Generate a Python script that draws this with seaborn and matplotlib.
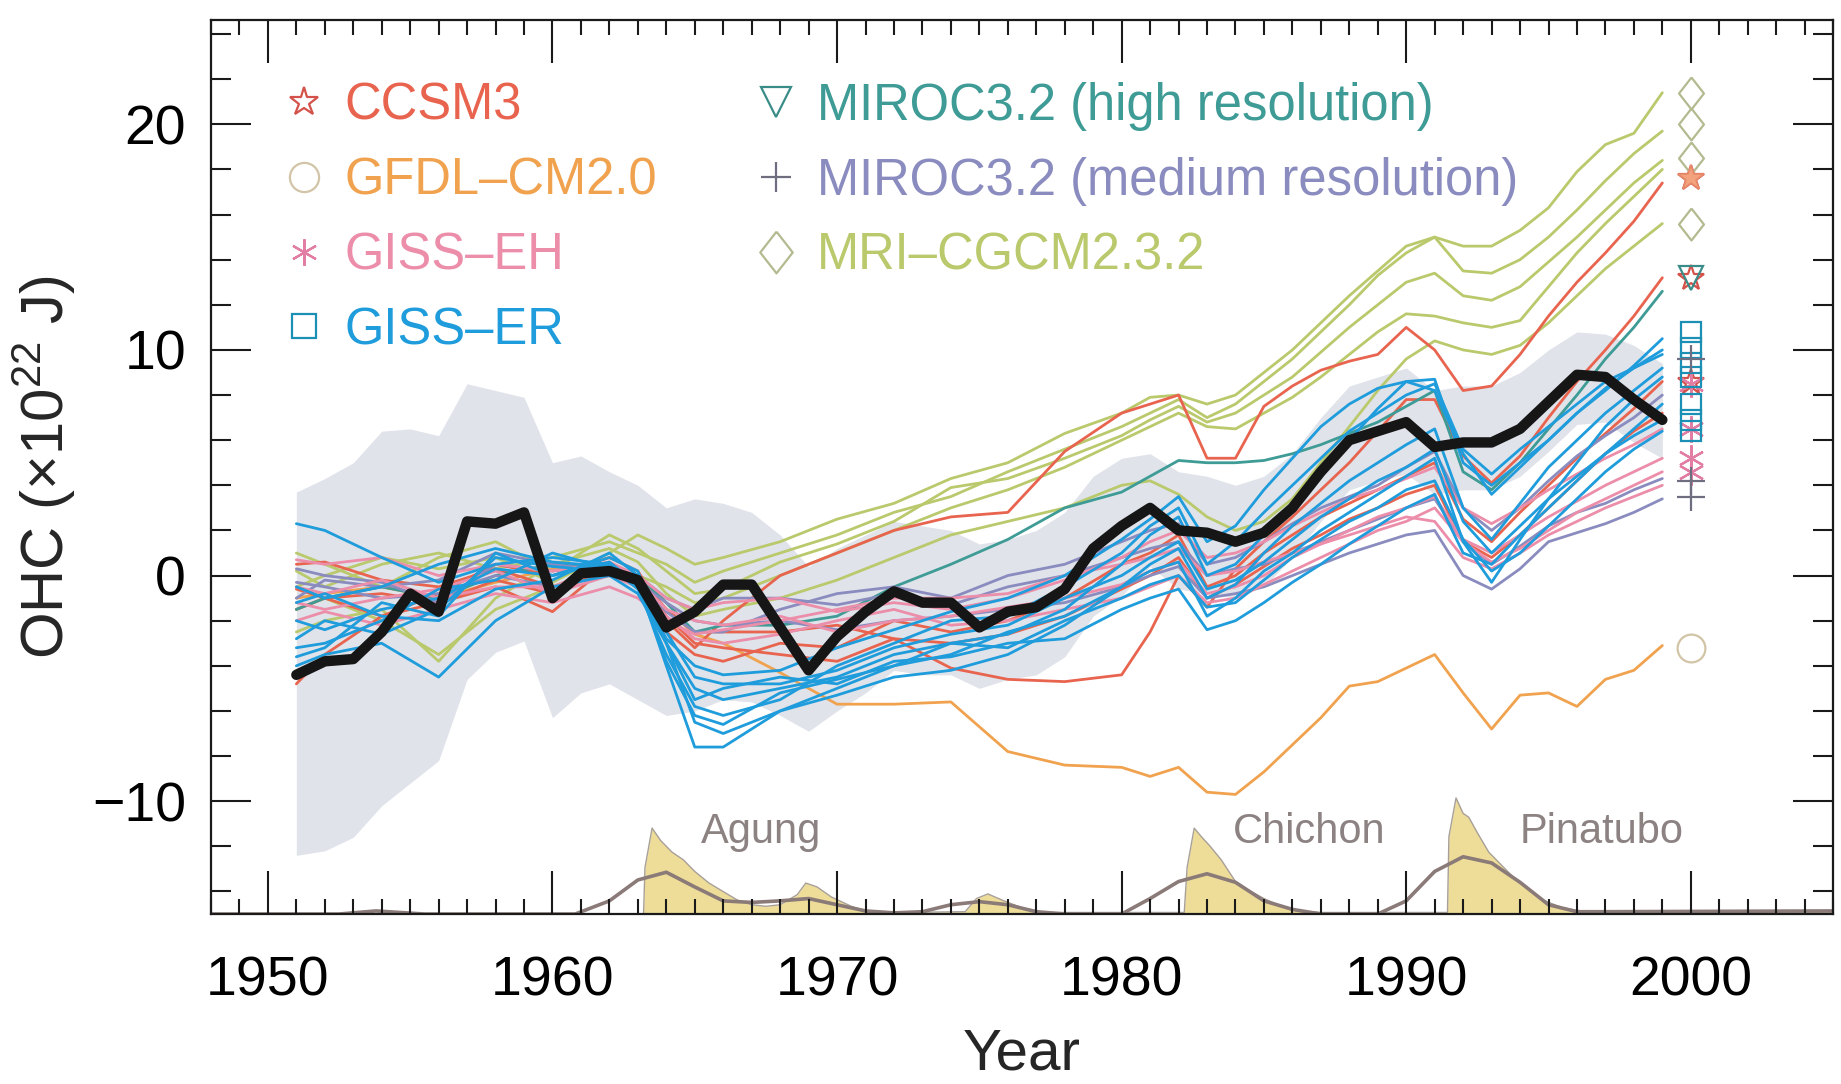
import matplotlib
matplotlib.use("Agg")
import matplotlib.pyplot as plt
from matplotlib.lines import Line2D
from matplotlib.ticker import MultipleLocator, FixedLocator
import pandas as pd
import seaborn as sns

# ---------------------------------------------------------------- data
years = list(range(1951, 2000))

# observed ocean heat content (x1e22 J) and its uncertainty envelope
obs_ohc = [-4.4, -3.8, -3.7, -2.5, -0.8, -1.6, 2.4, 2.3, 2.8, -1.0,
           0.1, 0.2, -0.2, -2.3, -1.6, -0.4, -0.4, -2.3, -4.2, -2.7,
           -1.6, -0.7, -1.2, -1.2, -2.3, -1.6, -1.4, -0.6, 1.2, 2.2,
           3.0, 2.0, 1.9, 1.5, 1.9, 3.0, 4.6, 6.0, 6.4, 6.8,
           5.7, 5.9, 5.9, 6.5, 7.7, 8.9, 8.8, 7.8, 6.9]
obs_upper = [3.7, 4.3, 5.0, 6.4, 6.5, 6.2, 8.5, 8.2, 7.9, 5.0,
             5.3, 4.6, 4.0, 3.0, 3.4, 3.2, 2.8, 1.8, 0.4, 1.2,
             1.8, 2.4, 2.2, 2.0, 1.4, 1.6, 2.0, 2.8, 4.4, 5.2,
             5.4, 4.6, 4.4, 4.0, 4.4, 5.4, 7.0, 8.4, 8.8, 9.2,
             8.2, 8.4, 8.4, 9.0, 10.0, 10.8, 10.7, 10.2, 9.4]
obs_lower = [-12.4, -12.2, -11.6, -10.2, -9.2, -8.2, -4.6, -3.4, -2.9, -6.3,
             -5.2, -4.8, -5.5, -6.2, -6.0, -5.5, -5.6, -6.2, -6.9, -6.0,
             -5.2, -4.2, -4.4, -4.4, -5.0, -4.6, -4.4, -3.6, -1.8, -0.9,
             0.4, -0.6, -0.8, -1.0, -0.5, 0.8, 2.4, 3.8, 4.2, 4.5,
             3.6, 3.8, 3.8, 4.4, 5.5, 6.7, 6.8, 5.9, 5.2]

# simulated runs, sampled on these years
run_years = [1951, 1952, 1954, 1956, 1958, 1960, 1962, 1963, 1964, 1965, 1966,
             1968, 1970, 1972, 1974, 1976, 1978, 1980, 1981, 1982, 1983, 1984,
             1985, 1986, 1987, 1988, 1989, 1990, 1991, 1992, 1993, 1994, 1995,
             1996, 1997, 1998, 1999]

ccsm3_runs = [
    [-0.6, -1.0, -0.8, -1.2, -0.2, -0.8, 0.3, -0.3, -2.0, -3.2, -2.0,
     0.0, 1.0, 2.0, 2.6, 2.8, 5.5, 7.2, 7.6, 8.0, 5.2, 5.2,
     7.5, 8.4, 9.1, 9.5, 9.8, 11.0, 10.0, 8.2, 8.4, 9.8, 11.5,
     13.0, 14.3, 15.7, 17.4],
    [-4.8, -3.5, -1.8, -1.2, -0.5, -1.6, 0.5, 0.0, -1.5, -2.5, -2.5,
     -2.5, -2.2, -2.8, -4.1, -4.6, -4.7, -4.4, -2.5, 0.0, -1.4, 0.3,
     1.5, 2.6, 3.8, 5.0, 6.4, 7.8, 7.8, 5.3, 4.1, 5.3, 7.0,
     8.6, 10.0, 11.5, 13.2],
    [0.5, 0.6, -0.2, -0.5, 0.3, -0.5, 0.2, -0.5, -2.5, -3.5, -3.8,
     -3.0, -3.2, -2.0, -2.5, -2.0, -1.0, 0.5, 1.0, 1.8, -0.5, 0.0,
     1.0, 1.8, 2.6, 3.2, 3.8, 4.4, 5.0, 2.5, 1.5, 2.8, 4.0,
     5.2, 6.3, 7.4, 8.6],
    [-1.5, -1.0, -1.8, -0.8, 0.5, 0.0, 0.8, 0.2, -1.8, -3.0, -3.2,
     -3.5, -3.8, -2.8, -3.0, -2.6, -1.8, -0.6, 0.0, 0.8, -1.0, -0.4,
     0.4, 1.2, 1.8, 2.5, 3.0, 3.6, 4.0, 1.5, 0.8, 1.8, 3.0,
     4.2, 5.4, 6.4, 7.2],
]
gfdl_runs = [
    [-1.0, -0.8, -0.5, -1.0, -0.3, 0.3, 0.4, -0.3, -1.5, -2.6, -3.0,
     -4.3, -5.7, -5.7, -5.6, -7.8, -8.4, -8.5, -8.9, -8.5, -9.6, -9.7,
     -8.7, -7.5, -6.3, -4.9, -4.7, -4.1, -3.5, -5.2, -6.8, -5.3, -5.2,
     -5.8, -4.6, -4.2, -3.1],
]
giss_eh_runs = [
    [0.7, 0.5, 0.8, 0.0, 0.5, 0.2, 0.6, 0.0, -1.0, -1.5, -1.2,
     -1.0, -1.6, -1.2, -1.5, -1.0, -0.2, 0.8, 1.5, 2.0, 0.8, 1.0,
     1.5, 2.2, 2.8, 3.4, 3.8, 4.3, 4.8, 3.0, 2.3, 3.0, 3.8,
     4.5, 5.2, 5.8, 6.5],
    [-0.5, -0.8, -0.2, -1.0, -0.5, -0.5, 0.5, -0.2, -1.5, -2.0, -2.2,
     -1.8, -2.5, -2.0, -1.8, -1.4, -1.0, -0.4, 0.2, 0.6, -0.8, -0.5,
     0.0, 0.8, 1.4, 2.0, 2.6, 3.0, 3.5, 1.6, 1.0, 1.8, 2.6,
     3.3, 4.0, 4.6, 5.2],
    [-1.2, -1.5, -1.0, -0.6, 0.2, -0.8, 0.0, -0.5, -1.8, -2.8, -3.0,
     -2.6, -2.0, -1.5, -2.2, -2.0, -1.5, -1.0, -0.5, 0.0, -1.2, -1.0,
     -0.4, 0.2, 0.8, 1.4, 2.0, 2.4, 3.0, 1.5, 0.6, 1.2, 2.0,
     2.8, 3.4, 4.0, 4.6],
    [-2.0, -1.6, -2.2, -1.5, -0.8, -1.2, -0.5, -1.0, -2.0, -2.6, -2.4,
     -2.0, -1.5, -1.0, -1.0, -0.8, 0.0, 0.5, 0.8, 1.2, 0.0, 0.2,
     0.6, 1.0, 1.4, 1.8, 2.2, 2.6, 2.4, 0.8, 0.3, 1.0, 1.8,
     2.4, 3.0, 3.5, 4.0],
]
giss_er_runs = [
    [2.3, 2.0, 0.8, -0.3, 0.5, 0.8, 0.5, -0.5, -3.0, -5.0, -5.5,
     -5.0, -4.5, -3.5, -3.0, -2.6, -1.5, 0.5, 1.8, 2.6, 0.0, 0.5,
     1.8, 3.0, 4.5, 6.0, 7.4, 8.6, 8.7, 5.0, 4.0, 5.0, 6.0,
     7.2, 8.2, 9.3, 10.5],
    [-0.5, -1.0, -0.5, 0.5, 1.2, 0.6, 0.4, -0.6, -3.5, -5.8, -6.2,
     -5.5, -4.0, -3.0, -2.0, -1.8, -0.5, 1.0, 2.2, 3.0, 0.5, 1.5,
     2.8, 4.0, 5.2, 6.4, 7.2, 8.0, 8.5, 5.6, 4.5, 5.6, 6.6,
     7.6, 8.6, 9.2, 9.8],
    [-2.0, -2.4, -1.5, -1.0, 0.3, 0.0, 0.8, 0.2, -3.0, -6.5, -7.0,
     -6.0, -5.0, -4.0, -3.5, -2.5, -1.8, -0.5, 0.5, 1.2, -1.0, -0.4,
     1.0, 2.2, 3.2, 4.2, 5.0, 5.8, 6.5, 3.0, 1.6, 3.2, 4.8,
     6.0, 7.2, 8.2, 9.2],
    [-3.2, -3.0, -2.0, -0.6, -0.2, 1.0, 0.3, -0.3, -4.0, -7.6, -7.6,
     -6.0, -5.3, -4.5, -4.2, -3.5, -2.2, -0.5, 0.2, 0.6, -1.8, -1.0,
     0.2, 1.0, 2.0, 2.8, 3.6, 4.4, 5.2, 1.5, -0.3, 1.6, 3.4,
     5.0, 6.6, 7.8, 8.8],
    [-4.0, -3.5, -3.0, -4.5, -2.0, -0.5, 0.0, -0.8, -3.0, -5.5, -5.0,
     -4.5, -4.8, -3.8, -3.6, -3.0, -2.8, -1.5, -1.0, -0.6, -2.4, -2.0,
     -1.2, -0.3, 0.5, 1.4, 2.2, 3.0, 3.6, 1.0, 0.5, 1.8, 3.0,
     4.2, 5.4, 6.5, 7.6],
    [-1.2, -0.8, -1.8, -2.0, -0.6, -0.2, 1.0, 0.0, -2.5, -4.5, -4.8,
     -4.8, -4.2, -3.2, -2.6, -2.2, -1.0, 0.0, 0.8, 1.5, -0.6, -0.2,
     0.6, 1.6, 2.6, 3.4, 4.2, 4.8, 5.6, 2.4, 1.0, 2.2, 3.4,
     4.4, 5.4, 6.2, 6.9],
    [-2.8, -2.0, -2.6, -1.5, 0.8, 0.4, 0.2, -0.4, -3.8, -6.2, -6.6,
     -5.2, -4.6, -4.0, -3.0, -3.2, -2.0, -1.0, -0.4, 0.0, -1.4, -1.2,
     -0.2, 0.8, 1.6, 2.4, 3.0, 3.8, 4.2, 1.6, 0.2, 1.0, 2.2,
     3.4, 4.6, 5.6, 6.4],
    [-3.6, -3.2, -1.2, -1.8, 1.0, 0.0, 0.6, -0.4, -2.8, -4.0, -4.4,
     -4.2, -3.2, -2.4, -1.6, -1.0, 0.0, 1.6, 2.5, 3.5, 1.5, 2.2,
     3.8, 5.2, 6.6, 7.6, 8.3, 8.6, 8.2, 5.4, 3.6, 4.8, 6.0,
     7.2, 8.3, 9.2, 10.0],
]
miroc_hi_runs = [
    [-1.5, -1.0, -0.5, -1.0, 0.0, 0.5, 0.3, 0.0, -1.2, -2.5, -2.2,
     -2.2, -1.8, -0.5, 0.5, 1.6, 3.0, 3.7, 4.4, 5.1, 5.0, 5.0,
     5.1, 5.4, 5.8, 6.3, 6.8, 7.5, 8.2, 4.6, 3.8, 5.0, 6.5,
     8.0, 9.6, 11.0, 12.6],
]
miroc_med_runs = [
    [-0.3, -0.5, -1.0, -0.8, 0.0, -0.5, 0.0, -0.3, -1.2, -2.0, -2.2,
     -2.0, -2.4, -2.0, -1.8, -1.5, -1.2, -0.5, 0.0, 0.4, -1.0, -0.8,
     -0.5, 0.0, 0.5, 1.0, 1.4, 1.8, 2.0, 0.0, -0.6, 0.3, 1.5,
     1.9, 2.3, 2.8, 3.4],
    [0.3, 0.0, -0.3, -1.2, 0.5, 0.2, 0.5, 0.0, -1.0, -1.5, -1.0,
     -1.0, -1.3, -0.8, -1.3, -0.5, 0.0, 0.8, 1.2, 1.5, 0.0, 0.3,
     0.5, 1.0, 1.5, 2.0, 2.5, 3.0, 3.4, 1.5, 0.5, 1.3, 2.2,
     2.8, 3.2, 3.8, 4.3],
    [-1.0, -0.2, -0.5, -0.2, 1.0, 0.5, 0.2, -0.2, -1.6, -2.5, -2.5,
     -1.5, -0.8, -0.5, -1.0, 0.0, 0.5, 1.5, 2.0, 2.3, 0.5, 0.8,
     1.5, 2.3, 3.0, 3.5, 4.0, 4.8, 5.5, 3.0, 2.0, 3.0, 4.2,
     5.3, 6.2, 7.0, 8.0],
]
mri_runs = [
    [-0.5, 0.0, 0.8, 0.3, 0.8, -0.3, 1.0, 1.8, 1.2, 0.5, 0.8,
     1.5, 2.5, 3.2, 4.3, 5.0, 6.3, 7.2, 7.9, 8.0, 7.6, 8.0,
     9.0, 10.0, 11.2, 12.4, 13.5, 14.6, 15.0, 14.6, 14.6, 15.3, 16.3,
     17.9, 19.1, 19.6, 21.4],
    [0.2, -0.5, 0.5, 1.0, 0.3, 0.8, 1.5, 1.0, 0.5, -0.3, 0.2,
     1.0, 1.8, 2.8, 3.5, 4.6, 5.6, 6.6, 7.2, 7.8, 7.0, 7.6,
     8.6, 9.6, 10.8, 12.0, 13.3, 14.3, 15.0, 13.5, 13.4, 14.0, 15.0,
     16.2, 17.5, 18.7, 19.7],
    [-1.5, -1.0, -2.0, -3.5, -1.5, -0.5, 0.5, 0.0, -0.5, -1.2, -1.0,
     0.0, 1.0, 2.0, 3.0, 3.8, 4.8, 6.0, 6.6, 7.2, 6.6, 6.5,
     7.2, 7.9, 8.8, 9.8, 10.8, 11.6, 11.5, 11.2, 11.0, 11.3, 12.8,
     14.3, 15.6, 16.8, 18.0],
    [-2.5, -2.0, -1.5, -3.8, -1.0, 0.5, 1.2, 0.6, -0.8, -1.8, -1.5,
     -1.0, -0.2, 0.8, 1.8, 2.4, 3.0, 4.0, 4.2, 3.6, 2.6, 2.0,
     2.4, 3.4, 5.0, 6.6, 8.2, 9.6, 10.4, 10.0, 9.8, 10.2, 11.2,
     12.4, 13.6, 14.6, 15.6],
    [1.0, 0.5, -0.5, 0.8, 1.5, 0.2, 1.8, 1.2, 0.2, -0.8, -0.6,
     0.6, 1.4, 2.4, 3.9, 4.3, 5.2, 6.2, 6.9, 7.5, 6.8, 7.2,
     8.0, 8.8, 9.9, 11.0, 12.0, 13.0, 13.4, 12.4, 12.2, 12.8, 13.9,
     15.0, 16.2, 17.4, 18.4],
]

model_names = ['CCSM3', 'GFDL–CM2.0', 'GISS–EH', 'GISS–ER',
               'MIROC3.2 (high resolution)', 'MIROC3.2 (medium resolution)',
               'MRI–CGCM2.3.2']
model_runs = [ccsm3_runs, gfdl_runs, giss_eh_runs, giss_er_runs,
              miroc_hi_runs, miroc_med_runs, mri_runs]

# per-run values shown as symbols at 2000
end_year = 2000
ccsm3_end = [17.6, 13.2, 8.6]
gfdl_end = [-3.2]
giss_eh_end = [8.5, 6.5, 5.2, 4.6]
giss_er_end = [10.8, 10.1, 9.4, 8.8, 7.6, 6.9, 6.4]
miroc_hi_end = [13.2]
miroc_med_end = [9.6, 4.2, 3.5]
mri_end = [21.4, 20.0, 18.5, 15.6]
model_end = [ccsm3_end, gfdl_end, giss_eh_end, giss_er_end,
             miroc_hi_end, miroc_med_end, mri_end]

# volcanic aerosol optical depth (raw and smoothed)
aod_years = [1948.0, 1963.2, 1963.25, 1963.5, 1963.8, 1964.2, 1964.6, 1965.0,
             1965.5, 1966.0, 1966.5, 1967.0, 1967.5, 1968.0, 1968.6, 1968.9,
             1969.3, 1969.8, 1970.5, 1971.0, 1972.0, 1974.5, 1974.9, 1975.3,
             1975.8, 1976.5, 1977.3, 1982.2, 1982.3, 1982.55, 1982.8, 1983.1,
             1983.5, 1984.0, 1984.5, 1985.0, 1985.6, 1986.3, 1987.0, 1991.45,
             1991.5, 1991.75, 1992.0, 1992.2, 1992.5, 1992.9, 1993.3, 1993.7,
             1994.2, 1994.8, 1995.5, 1996.3, 2005.0]
aod = [0.0, 0.0, 0.06, 0.111, 0.095, 0.08, 0.07, 0.055,
       0.04, 0.029, 0.018, 0.012, 0.01, 0.012, 0.025, 0.04,
       0.035, 0.022, 0.01, 0.004, 0.002, 0.003, 0.02, 0.026,
       0.018, 0.008, 0.002, 0.002, 0.06, 0.111, 0.1, 0.088,
       0.07, 0.042, 0.03, 0.02, 0.01, 0.004, 0.002, 0.002,
       0.1, 0.15, 0.13, 0.125, 0.105, 0.08, 0.065, 0.05,
       0.035, 0.018, 0.008, 0.003, 0.003]
aod_smooth_years = [1948, 1952.5, 1953.8, 1955.5, 1960.8,
                    1962, 1963, 1964, 1965, 1966, 1967, 1968, 1969, 1970, 1971,
                    1972, 1973, 1974, 1975, 1976, 1977, 1978,
                    1980, 1981, 1982, 1983, 1984, 1985, 1986, 1987,
                    1989, 1990, 1991, 1992, 1993, 1994, 1995, 1996, 1997, 2005]
aod_smooth = [0.0, 0.0, 0.004, 0.0, 0.0,
              0.017, 0.044, 0.054, 0.035, 0.017, 0.015, 0.017, 0.02, 0.012, 0.004,
              0.0015, 0.003, 0.012, 0.016, 0.012, 0.003, 0.0,
              0.0, 0.02, 0.042, 0.052, 0.041, 0.017, 0.006, 0.0,
              0.0, 0.017, 0.055, 0.074, 0.066, 0.041, 0.012, 0.003, 0.003, 0.004]

volcano_names = ['Agung', 'Chichon', 'Pinatubo']
volcano_label_x = [1965.2, 1983.9, 1994.0]

# ---------------------------------------------------------------- style
line_colors = {
    'CCSM3': '#e8644f',
    'GFDL–CM2.0': '#f0a24e',
    'GISS–EH': '#ec8eaa',
    'GISS–ER': '#1f9cdb',
    'MIROC3.2 (high resolution)': '#3e9b95',
    'MIROC3.2 (medium resolution)': '#8a8bbf',
    'MRI–CGCM2.3.2': '#b9c96c',
}
diamond = [(0, 1), (0.78, 0), (0, -1), (-0.78, 0), (0, 1)]
marker_style = {
    'CCSM3': dict(marker='*', mec='#d4524a'),
    'GFDL–CM2.0': dict(marker='o', mec='#d2c4a6'),
    'GISS–EH': dict(marker=(6, 2, 0), mec='#e27ea4'),
    'GISS–ER': dict(marker='s', mec='#1c8fb4'),
    'MIROC3.2 (high resolution)': dict(marker='v', mec='#3a8c88'),
    'MIROC3.2 (medium resolution)': dict(marker='+', mec='#6e6e80'),
    'MRI–CGCM2.3.2': dict(marker=diamond, mec='#b4ba90'),
}
legend_ms = {'CCSM3': 21, 'GFDL–CM2.0': 21, 'GISS–EH': 19, 'GISS–ER': 17,
             'MIROC3.2 (high resolution)': 21, 'MIROC3.2 (medium resolution)': 22,
             'MRI–CGCM2.3.2': 30}
end_ms = {'CCSM3': 19, 'GFDL–CM2.0': 20, 'GISS–EH': 19, 'GISS–ER': 15,
          'MIROC3.2 (high resolution)': 17, 'MIROC3.2 (medium resolution)': 20,
          'MRI–CGCM2.3.2': 23}
draw_order = ['MRI–CGCM2.3.2', 'GFDL–CM2.0', 'CCSM3', 'MIROC3.2 (high resolution)',
              'MIROC3.2 (medium resolution)', 'GISS–EH', 'GISS–ER']

sns.set_style('ticks')
plt.rcParams['font.family'] = ['Liberation Sans', 'DejaVu Sans']
plt.rcParams['axes.unicode_minus'] = True
plt.rcParams['mathtext.fontset'] = 'custom'
plt.rcParams['mathtext.rm'] = 'Liberation Sans'
plt.rcParams['mathtext.it'] = 'Liberation Sans:italic'
plt.rcParams['mathtext.bf'] = 'Liberation Sans:bold'

ylo, yhi = -15, 24.6
ohc_per_aod = 34.3

fig = plt.figure(figsize=(18.41, 10.84), dpi=100)
ax = fig.add_axes([0.1146, 0.1568, 0.8811, 0.8243])
axv = ax.twinx()
axv.set_zorder(ax.get_zorder() - 1)
ax.patch.set_visible(False)

# volcanic forcing strip along the bottom
axv.fill_between(aod_years, 0, aod, color='#eedd98', lw=0)
axv.plot(aod_years, aod, color='#a8a098', lw=1.0)
sns.lineplot(x=aod_smooth_years, y=aod_smooth, color='#8a7a78', lw=2.6,
             ax=axv, estimator=None, sort=False)
axv.set_ylim(0, (yhi - ylo) / ohc_per_aod)
axv.axis('off')

# observational uncertainty envelope
ax.fill_between(years, obs_lower, obs_upper, color='#e0e3ea', lw=0, zorder=1)

# model runs
records = []
for name, runs in zip(model_names, model_runs):
    for i, run in enumerate(runs):
        for yr, val in zip(run_years, run):
            records.append((name, f'{name} {i}', yr, val))
runs_df = pd.DataFrame(records, columns=['model', 'run', 'year', 'ohc'])
sns.lineplot(data=runs_df, x='year', y='ohc', hue='model', units='run',
             estimator=None, hue_order=draw_order, palette=line_colors,
             lw=2.0, legend=False, sort=False, ax=ax, zorder=2)

# observations
sns.lineplot(x=years, y=obs_ohc, color='#161616', lw=7.5, ax=ax,
             estimator=None, sort=False, zorder=4)

# end-of-period symbols (the top CCSM3 star is drawn filled)
for name, vals in zip(model_names, model_end):
    st = marker_style[name]
    ax.plot([end_year] * len(vals), vals, ls='none', marker=st['marker'],
            mfc='none', mec=st['mec'], mew=1.6, ms=end_ms[name], zorder=5,
            clip_on=False)
ax.plot([end_year], ccsm3_end[:1], ls='none', marker='*', mfc='#f2a37e',
        mec='#e88a6a', mew=1.2, ms=end_ms['CCSM3'], zorder=6, clip_on=False)

for name, xpos in zip(volcano_names, volcano_label_x):
    ax.text(xpos, -11.35, name, fontsize=30, color='#8c8282',
            ha='left', va='center', zorder=6)

# legend
handles = [Line2D([], [], ls='none', marker=marker_style[n]['marker'],
                  mfc='none', mec=marker_style[n]['mec'], mew=1.6,
                  ms=legend_ms[n]) for n in model_names]
ax.legend(handles, model_names, ncol=2, loc='upper left',
          bbox_to_anchor=(0.0166, 0.9826), frameon=False, fontsize=36.5,
          labelcolor=[line_colors[n] for n in model_names],
          handlelength=0.8, handletextpad=0.4, columnspacing=1.95,
          labelspacing=0.51, borderpad=0.4)

# axes
ax.set_xlim(1948, 2005)
ax.set_ylim(ylo, yhi)
ax.xaxis.set_major_locator(MultipleLocator(10))
ax.xaxis.set_minor_locator(MultipleLocator(1))
ax.yaxis.set_major_locator(FixedLocator([-10, 0, 10, 20]))
ax.yaxis.set_minor_locator(MultipleLocator(2))
ax.tick_params(which='both', direction='in', top=True, right=True,
               width=1.5, color='#1a1a1a', labelcolor='black')
ax.tick_params(axis='x', which='major', length=31, pad=30, labelsize=40)
ax.tick_params(axis='x', which='minor', length=11)
ax.tick_params(axis='y', which='major', length=29, pad=18, labelsize=40)
ax.tick_params(axis='y', which='minor', length=14.5)
for sp in ax.spines.values():
    sp.set_linewidth(1.6)
    sp.set_color('#1a1a1a')
ax.set_xlabel('Year', fontsize=42, labelpad=14)
ax.set_ylabel(r'OHC ($\times$10$^{22}$ J)', fontsize=43, labelpad=10)

fig.savefig('out.png', dpi=100)
